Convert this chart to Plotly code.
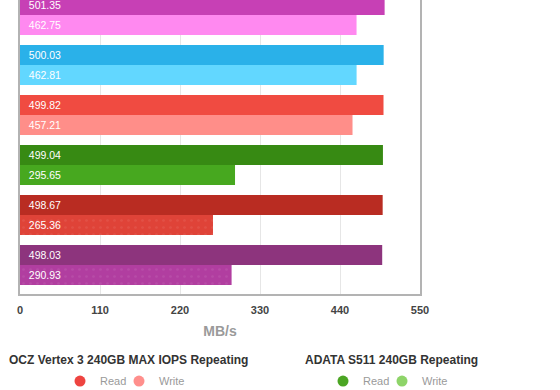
import plotly.graph_objects as go

# ---- data ----
groups = [0, 1, 2, 3, 4, 5]
read_values = [501.35, 500.03, 499.82, 499.04, 498.67, 498.03]
write_values = [462.75, 462.81, 457.21, 295.65, 265.36, 290.93]
read_colors = ["#C740B5", "#2AB1E9", "#F04B41", "#378A13", "#B92C22", "#8D347D"]
write_colors = ["#FF89F0", "#62D7FF", "#FF8E89", "#47A81F", "#DF4338", "#B13EA0"]
write_patterns = ["", "", "", "", ".", "."]
x_ticks = [0, 110, 220, 330, 440, 550]
series_names = ["Read", "Write"]
legend_titles = ["OCZ Vertex 3 240GB MAX IOPS Repeating", "ADATA S511 240GB Repeating"]
legend_read_colors = ["#EE4440", "#4BA523"]
legend_write_colors = ["#FF8F8C", "#8ED469"]
title_x = [0.27, 0.9275]
legend_x = [0.27, 0.9275]

FONT = "Liberation Sans, Arial, Helvetica, sans-serif"
NB = "\u00a0\u00a0"

fig = go.Figure()

fig.add_trace(go.Bar(
    y=groups, x=read_values, orientation="h", name=series_names[0],
    marker=dict(color=read_colors, line=dict(width=0)),
    text=[NB + f"{v:.2f}" for v in read_values],
    textposition="inside", insidetextanchor="start",
    textfont=dict(color="white", size=10.5, family=FONT),
    showlegend=False, hoverinfo="skip",
))
fig.add_trace(go.Bar(
    y=groups, x=write_values, orientation="h", name=series_names[1],
    marker=dict(color=write_colors, line=dict(width=0),
                pattern=dict(shape=write_patterns, fgcolor="#ffffff",
                             fgopacity=0.07, size=7, solidity=0.12)),
    text=[NB + f"{v:.2f}" for v in write_values],
    textposition="inside", insidetextanchor="start",
    textfont=dict(color="white", size=10.5, family=FONT),
    showlegend=False, hoverinfo="skip",
))

# legend-only entries
entry_widths = [14, 32]
for i, title in enumerate(legend_titles):
    lname = "legend" if i == 0 else f"legend{i+1}"
    for name, col, ew in zip(series_names, [legend_read_colors[i], legend_write_colors[i]], entry_widths):
        fig.add_trace(go.Scatter(
            x=[None], y=[None], mode="markers", name=name,
            marker=dict(symbol="circle", size=11, color=col),
            legend=lname, legendwidth=ew, showlegend=True, hoverinfo="skip",
        ))
    # legend group title
    fig.add_annotation(
        x=title_x[i], xref="paper", xanchor="center",
        y=-0.2245, yref="paper", yanchor="middle",
        text=title, showarrow=False,
        font=dict(size=12, color="#333333", family=FONT, weight="bold"),
    )

legend_common = dict(
    orientation="h", y=-0.296, yanchor="middle", xanchor="center",
    font=dict(size=11, color="#9a9a9a", family=FONT),
    bgcolor="rgba(0,0,0,0)", entrywidthmode="pixels",
)

fig.update_layout(
    width=560, height=390,
    margin=dict(l=20, r=140, t=0, b=96, autoexpand=False),
    paper_bgcolor="white", plot_bgcolor="white",
    font=dict(family=FONT),
    barmode="group", bargap=0.2, bargroupgap=0,
    xaxis=dict(
        range=[0, 550], tickvals=x_ticks, ticktext=[str(t) for t in x_ticks],
        showgrid=True, gridcolor="#e6e6e6", gridwidth=1, zeroline=False,
        showline=True, linecolor="#b3b3b3", linewidth=1.5, ticks="",
        ticklabelstandoff=5,
        tickfont=dict(size=11, color="#444444", family=FONT, weight="bold"),
        title=dict(text="MB/s", font=dict(size=14, color="#9a9a9a", family=FONT, weight="bold"),
                   standoff=11),
        fixedrange=True,
    ),
    yaxis=dict(
        range=[5.58, -0.3], showticklabels=False, showgrid=False, zeroline=False,
        showline=True, mirror=True, linecolor="#b3b3b3", linewidth=1.5, ticks="",
        fixedrange=True,
    ),
    legend=dict(x=legend_x[0], **legend_common),
    legend2=dict(x=legend_x[1], **legend_common),
)

fig.write_html(
    "out.html",
    config={"displayModeBar": False},
    post_script="document.body.style.margin='0';document.body.style.overflow='hidden';",
)
